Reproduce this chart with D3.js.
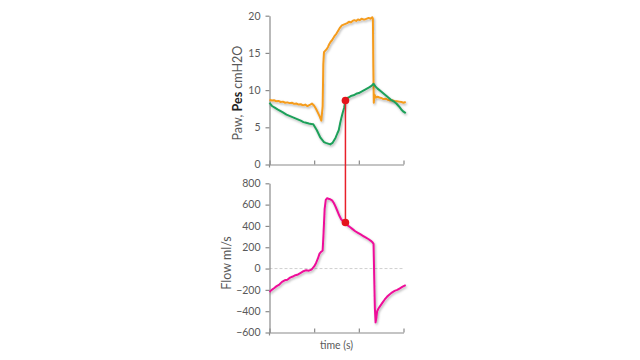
<!DOCTYPE html>
<html><head><meta charset="utf-8">
<script src="https://cdn.jsdelivr.net/npm/d3@7/dist/d3.min.js"></script>
<style>
html,body{margin:0;padding:0;background:#fff;}
svg{display:block;font-family:Lato,"Open Sans",sans-serif;}
</style></head>
<body>
<svg id="c" width="640" height="360"></svg>
<script>
// ---- data ----
const pawTime = [0.00,0.05,0.10,0.15,0.20,0.25,0.30,0.35,0.40,0.45,0.50,0.55,0.60,0.65,0.70,0.75,0.80,0.85,0.90,0.95,1.00,1.04,1.08,1.12,1.16,1.19,1.205,1.22,1.25,1.28,1.31,1.34,1.37,1.40,1.43,1.46,1.50,1.54,1.58,1.62,1.66,1.70,1.74,1.78,1.82,1.86,1.90,1.94,1.98,2.02,2.06,2.10,2.14,2.18,2.22,2.26,2.30,2.315,2.325,2.335,2.35,2.38,2.42,2.46,2.50,2.55,2.60,2.65,2.70,2.75,2.80,2.85,2.90,2.95,3.00,3.05];
const pawValue = [8.7,8.6,8.65,8.5,8.55,8.4,8.45,8.3,8.35,8.25,8.3,8.15,8.2,8.05,8.1,7.95,8.05,7.85,8.0,8.2,7.9,7.5,7.0,6.5,5.9,7.8,13.5,15.1,15.3,15.5,15.8,16.2,16.5,16.7,17.0,17.3,17.6,18.0,18.4,18.7,18.8,18.9,19.0,19.2,19.1,19.3,19.4,19.3,19.5,19.4,19.6,19.5,19.5,19.6,19.7,19.6,19.8,19.6,13.0,8.3,9.4,9.0,9.1,9.0,8.95,8.8,8.85,8.7,8.6,8.65,8.5,8.5,8.45,8.4,8.3,8.4];

const pesTime = [0.00,0.05,0.10,0.18,0.24,0.30,0.38,0.46,0.54,0.62,0.70,0.76,0.82,0.88,0.93,0.98,1.02,1.06,1.10,1.14,1.18,1.22,1.26,1.31,1.36,1.41,1.45,1.48,1.52,1.55,1.58,1.61,1.64,1.67,1.70,1.73,1.77,1.82,1.88,1.94,2.00,2.06,2.12,2.18,2.24,2.29,2.33,2.37,2.42,2.48,2.54,2.60,2.66,2.72,2.78,2.84,2.90,2.95,3.00,3.05];
const pesValue = [8.3,7.9,7.7,7.4,7.2,7.0,6.7,6.5,6.3,6.1,5.9,5.7,5.6,5.5,5.45,5.4,5.0,4.6,4.1,3.6,3.3,3.0,2.9,2.8,2.7,2.9,3.3,3.6,4.2,4.6,5.5,6.3,7.0,7.6,8.6,8.9,9.0,9.2,9.3,9.5,9.6,9.8,10.0,10.2,10.4,10.6,10.85,10.5,10.2,9.9,9.6,9.3,9.0,8.7,8.5,8.2,7.8,7.4,7.1,6.9];

const flowTime = [0.00,0.05,0.10,0.16,0.22,0.28,0.34,0.40,0.46,0.52,0.58,0.64,0.70,0.76,0.82,0.88,0.94,1.00,1.04,1.08,1.12,1.15,1.19,1.21,1.235,1.26,1.29,1.32,1.36,1.40,1.44,1.48,1.52,1.56,1.60,1.64,1.70,1.75,1.80,1.86,1.92,1.98,2.04,2.10,2.16,2.22,2.27,2.31,2.33,2.345,2.36,2.375,2.39,2.41,2.44,2.48,2.53,2.58,2.63,2.68,2.74,2.80,2.86,2.92,2.98,3.05];
const flowValue = [-220,-200,-185,-165,-150,-125,-110,-105,-85,-75,-62,-55,-40,-25,-15,-20,-10,20,50,90,140,155,170,330,560,645,660,655,650,640,615,580,540,500,465,445,430,405,390,370,350,335,320,305,290,275,260,245,230,-100,-380,-505,-470,-400,-375,-350,-320,-290,-265,-245,-225,-210,-200,-185,-170,-155];

const paxTicks = [0,1,2,3];
const pawTicks = [0,5,10,15,20];
const flowTicks = [-600,-400,-200,0,200,400,600,800];
const markerTime = 1.70;
const markerPes = 8.6;
const markerFlow = 432;

// ---- layout ----
const svg = d3.select("#c");
const x = d3.scaleLinear().domain([0,3]).range([269.5,403.5]);
const yTop = d3.scaleLinear().domain([0,20]).range([164.5,15.7]);
const yBot = d3.scaleLinear().domain([-600,800]).range([332.5,183.3]);

const axisColor = "#8a8a8a", textColor = "#595959";

const defs = svg.append("defs");
const f = defs.append("filter").attr("id","sh").attr("x","-10%").attr("y","-10%").attr("width","130%").attr("height","130%");
f.append("feDropShadow").attr("dx",1).attr("dy",1.5).attr("stdDeviation",0.9).attr("flood-color","#000").attr("flood-opacity",0.3);

function styleAxis(g){
  g.selectAll("path.domain").attr("stroke",axisColor).attr("stroke-width",1.2);
  g.selectAll(".tick line").attr("stroke",axisColor).attr("stroke-width",1.2);
  g.selectAll(".tick text").attr("fill",textColor).attr("font-size",10.5).attr("font-family","Lato, sans-serif");
}

// top chart axes
const gTy = svg.append("g").attr("transform",`translate(${x(0)},0)`)
  .call(d3.axisLeft(yTop).tickValues(pawTicks).tickSize(4).tickSizeOuter(0).tickPadding(5));
styleAxis(gTy);
const gTx = svg.append("g").attr("transform",`translate(0,${yTop(0)})`)
  .call(d3.axisBottom(x).tickValues(paxTicks).tickSize(-4).tickSizeOuter(0).tickFormat(""));
styleAxis(gTx);
svg.append("line").attr("x1",x(0)).attr("x2",x(0)).attr("y1",yTop(0)).attr("y2",yTop(0)+3).attr("stroke",axisColor).attr("stroke-width",1.2);

// bottom chart axes
svg.append("line").attr("x1",x(0)).attr("x2",x(3)).attr("y1",yBot(0)).attr("y2",yBot(0))
  .attr("stroke","#d0d0d0").attr("stroke-width",1).attr("stroke-dasharray","3,2");
const gBy = svg.append("g").attr("transform",`translate(${x(0)},0)`)
  .call(d3.axisLeft(yBot).tickValues(flowTicks).tickSize(4).tickSizeOuter(0).tickPadding(5));
styleAxis(gBy);
const gBx = svg.append("g").attr("transform",`translate(0,${yBot(-600)})`)
  .call(d3.axisBottom(x).tickValues(paxTicks).tickSize(-4).tickSizeOuter(0).tickFormat(""));
styleAxis(gBx);
svg.append("line").attr("x1",x(0)).attr("x2",x(0)).attr("y1",yBot(-600)).attr("y2",yBot(-600)+3).attr("stroke",axisColor).attr("stroke-width",1.2);

// axis titles
const t1 = svg.append("text").attr("transform",`translate(242,${(yTop(0)+yTop(20))/2+3}) rotate(-90)`)
  .attr("text-anchor","middle").attr("font-size",12.5).attr("fill",textColor);
t1.append("tspan").text("Paw, ");
t1.append("tspan").attr("font-weight","bold").attr("fill","#222").text("Pes");
t1.append("tspan").text(" cmH2O");
svg.append("text").attr("transform",`translate(231,263) rotate(-90)`)
  .attr("text-anchor","middle").attr("font-size",12.5).attr("fill",textColor).text("Flow ml/s");
svg.append("text").attr("x",(x(0)+x(3))/2+0).attr("y",349).attr("text-anchor","middle")
  .attr("font-size",10.5).attr("fill",textColor).text("time (s)");

// lines
const lineTop = d3.line().x(d=>x(d[0])).y(d=>yTop(d[1]));
const lineBot = d3.line().x(d=>x(d[0])).y(d=>yBot(d[1]));
svg.append("path").datum(d3.zip(pawTime,pawValue)).attr("d",lineTop)
  .attr("fill","none").attr("stroke","#F59C1E").attr("stroke-width",2).attr("stroke-linejoin","round").attr("filter","url(#sh)");
svg.append("path").datum(d3.zip(pesTime,pesValue)).attr("d",lineTop)
  .attr("fill","none").attr("stroke","#1FA05A").attr("stroke-width",2).attr("stroke-linejoin","round").attr("filter","url(#sh)");
svg.append("path").datum(d3.zip(flowTime,flowValue)).attr("d",lineBot)
  .attr("fill","none").attr("stroke","#EE1199").attr("stroke-width",2).attr("stroke-linejoin","round").attr("filter","url(#sh)");

// marker connector
svg.append("line").attr("x1",x(markerTime)).attr("x2",x(markerTime))
  .attr("y1",yTop(markerPes)).attr("y2",yBot(markerFlow))
  .attr("stroke","#E8202A").attr("stroke-width",1.5);
svg.append("circle").attr("cx",x(markerTime)).attr("cy",yTop(markerPes)).attr("r",3.8).attr("fill","#E4141C");
svg.append("circle").attr("cx",x(markerTime)).attr("cy",yBot(markerFlow)).attr("r",3.8).attr("fill","#E4141C");
</script>
</body></html>
